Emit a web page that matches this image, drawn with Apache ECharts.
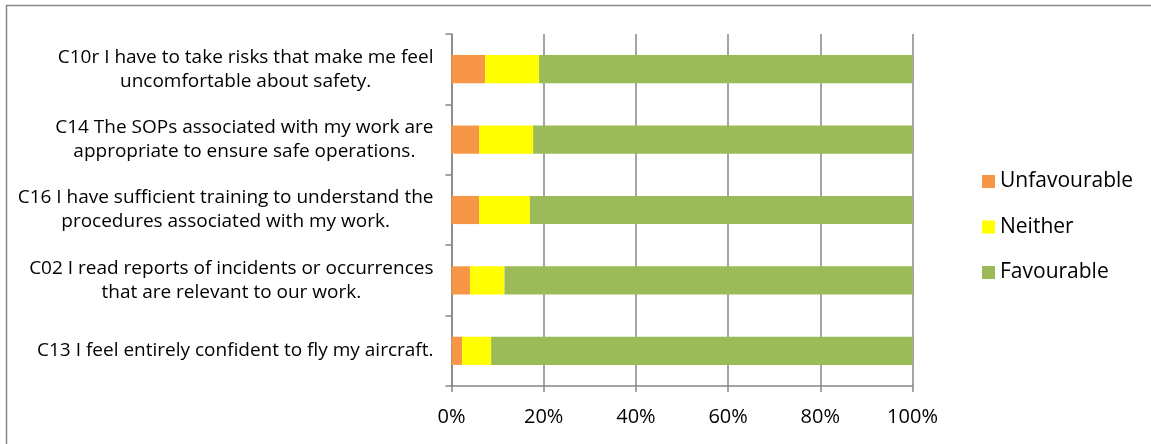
<!DOCTYPE html>
<html>
<head>
<meta charset="utf-8">
<script src="https://cdn.jsdelivr.net/npm/echarts@6/dist/echarts.min.js"></script>
<style>
html,body{margin:0;padding:0;background:#fff;}
#chart{width:1151px;height:444px;}
</style>
</head>
<body>
<div id="chart"></div>
<script>
// Categories (bottom to top as drawn by the category axis)
var categories = [
  'C13 I feel entirely confident to fly my aircraft.',
  'C02 I read reports of incidents or occurrences\nthat are relevant to our work.',
  'C16 I have sufficient training to understand the\nprocedures associated with my work.',
  'C14 The SOPs associated with my work are\nappropriate to ensure safe operations.',
  'C10r I have to take risks that make me feel\nuncomfortable about safety.'
];
var seriesNames = ['Unfavourable', 'Neither', 'Favourable'];
var unfavourable = [2.3, 4.0, 6.0, 6.0, 7.3];
var neither = [6.3, 7.5, 11.0, 11.7, 11.7];
var favourable = [91.4, 88.5, 83.0, 82.3, 81.0];
var xTicks = [0, 20, 40, 60, 80, 100];

var FONT = 'Open Sans';
var colors = ['#F79646', '#FFFF00', '#9BBB59'];
var chart = echarts.init(document.getElementById('chart'), null, {renderer: 'canvas'});

function mkSeries(name, data, color) {
  return {
    name: name, type: 'bar', stack: 'total', data: data,
    barCategoryGap: '60%',
    itemStyle: {color: color},
    emphasis: {disabled: true},
    animation: false
  };
}

var option = {
  animation: false,
  color: colors,
  graphic: [{
    type: 'rect', silent: true, z: -1,
    shape: {x: 6.5, y: 5.5, width: 1160, height: 460},
    style: {fill: 'none', stroke: '#888888', lineWidth: 1.5}
  }],
  grid: {left: 451.5, right: 1151 - 912.5, top: 34, bottom: 444 - 386, containLabel: false},
  legend: {
    orient: 'vertical',
    left: 982, top: 171, padding: 0,
    itemWidth: 13, itemHeight: 13, itemGap: 24.5,
    icon: 'rect',
    data: seriesNames,
    textStyle: {fontFamily: FONT, fontSize: 21, color: '#000', padding: [0, 0, 0, 0]}
  },
  xAxis: {
    type: 'value', min: 0, max: 100, interval: 20,
    axisLine: {show: true, lineStyle: {color: '#868686', width: 1.5}},
    axisTick: {show: true, length: 6, lineStyle: {color: '#868686', width: 1.5}},
    splitLine: {show: true, lineStyle: {color: '#868686', width: 1.5}},
    axisLabel: {
      fontFamily: FONT, fontSize: 20, color: '#000', margin: 21,
      formatter: function (v) { return xTicks.indexOf(v) >= 0 ? v + '%' : ''; }
    }
  },
  yAxis: {
    type: 'category', data: categories,
    axisLine: {show: true, lineStyle: {color: '#868686', width: 1.5}},
    axisTick: {show: true, length: 6, lineStyle: {color: '#868686', width: 1.5}},
    splitLine: {show: false},
    axisLabel: {
      margin: 18,
      fontFamily: FONT, fontSize: 19, color: '#000', lineHeight: 24,
      formatter: function (v) {
        return v.split('\n').map(function (l) { return '{c|' + l + '}'; }).join('\n');
      },
      rich: {c: {align: 'center', fontFamily: FONT, fontSize: 19, color: '#000', lineHeight: 24}}
    }
  },
  series: [
    mkSeries(seriesNames[0], unfavourable, colors[0]),
    mkSeries(seriesNames[1], neither, colors[1]),
    mkSeries(seriesNames[2], favourable, colors[2])
  ]
};
chart.setOption(option);
</script>
</body>
</html>
